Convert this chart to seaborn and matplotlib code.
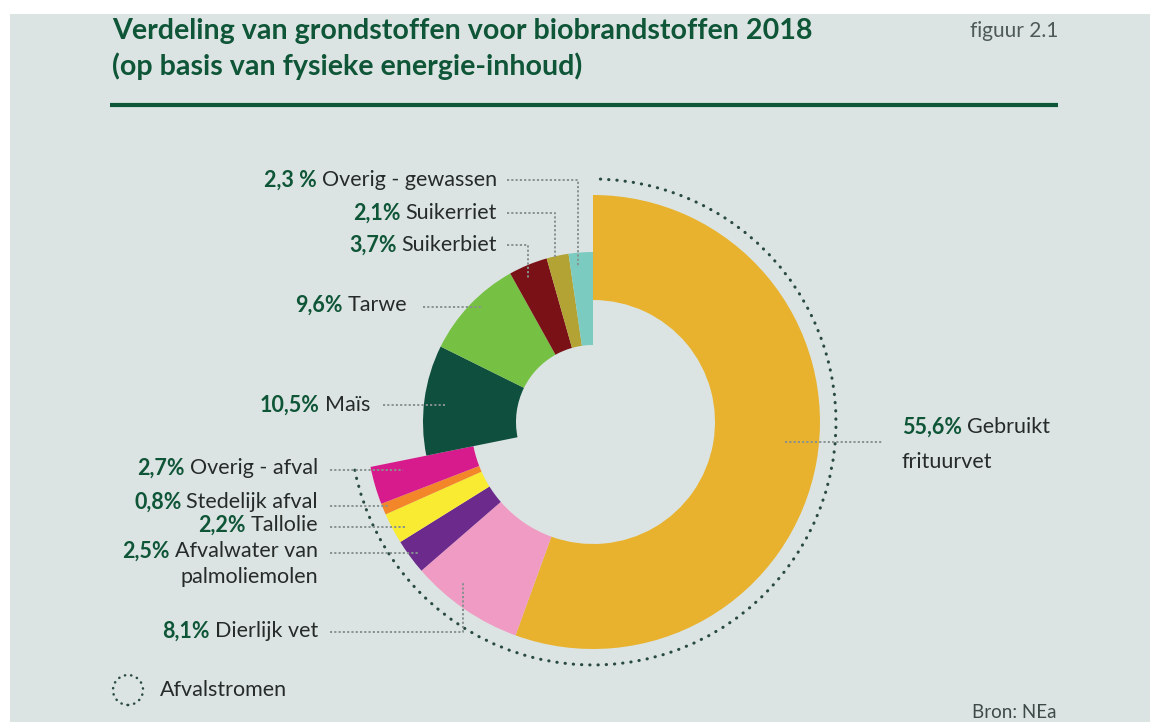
import matplotlib
matplotlib.use('Agg')
import matplotlib.pyplot as plt
from matplotlib.patches import Arc, Circle, Rectangle
import seaborn as sns

# ---- data ----
categories = ['Gebruikt frituurvet', 'Dierlijk vet', 'Afvalwater van palmoliemolen',
              'Tallolie', 'Stedelijk afval', 'Overig - afval',
              'Maïs', 'Tarwe', 'Suikerbiet', 'Suikerriet', 'Overig - gewassen']
shares = [55.6, 8.1, 2.5, 2.2, 0.8, 2.7, 10.5, 9.6, 3.7, 2.1, 2.3]
pct_labels = ['55,6%', '8,1%', '2,5%', '2,2%', '0,8%', '2,7%',
              '10,5%', '9,6%', '3,7%', '2,1%', '2,3 %']
is_waste = [True, True, True, True, True, True, False, False, False, False, False]
colors = ['#e8b22e', '#f09bc3', '#6b2a8c', '#f8eb32', '#f4862a', '#d81b8c',
          '#0f4f3d', '#76c044', '#7a1116', '#b3a234', '#7ccbc1']

# ---- style ----
sns.set_theme(style='white')
plt.rcParams['font.family'] = ['Lato', 'DejaVu Sans']
BG = '#dbe4e2'
GREEN = '#0f5538'
DARK = '#262b2a'
GREY = '#87928f'

W, H = 1150, 722
fig = plt.figure(figsize=(W / 100, H / 100), dpi=100, facecolor='white')
ax = fig.add_axes([0, 0, 1, 1])

def Y(y):
    # pixel row (top-down) -> data y
    return H - y

cx, cy = 593, Y(422)

# outer ring: waste streams
w1, _ = ax.pie(shares, colors=colors, startangle=90, counterclock=False,
               center=(cx, cy), radius=227, wedgeprops=dict(width=105, linewidth=0))
# inner ring: crops
w2, _ = ax.pie(shares, colors=colors, startangle=90, counterclock=False,
               center=(cx, cy), radius=170, wedgeprops=dict(width=93, linewidth=0))
for i, waste in enumerate(is_waste):
    w1[i].set_visible(waste)
    w2[i].set_visible(not waste)
    w1[i].set_zorder(3)
    w2[i].set_zorder(3)

ax.set_xlim(0, W)
ax.set_ylim(0, H)
ax.set_aspect('equal')
ax.axis('off')
ax.add_patch(Rectangle((10, 0), W - 10, H - 14, facecolor=BG, edgecolor='none', zorder=0))

# dotted arc around the waste streams
waste_total = sum(s for s, w in zip(shares, is_waste) if w)
span = 360 * waste_total / sum(shares)
arc = Arc((cx, cy), 2 * 243, 2 * 243, theta1=90 - span, theta2=90,
          color='#284a40', lw=2.2, linestyle=(0, (0.1, 2.6)), zorder=4)
arc.set_capstyle('round')
ax.add_patch(arc)

# header
ax.text(112, Y(31), 'Verdeling van grondstoffen voor biobrandstoffen 2018',
        fontsize=20.6, fontweight='bold', color=GREEN, va='center', ha='left')
ax.text(112, Y(66), '(op basis van fysieke energie-inhoud)',
        fontsize=20.6, fontweight='bold', color=GREEN, va='center', ha='left')
ax.text(1058, Y(31), 'figuur 2.1', fontsize=15, color='#4d5a57', va='center', ha='right')
ax.plot([110, 1058], [Y(105), Y(105)], color=GREEN, lw=3, solid_capstyle='butt')
ax.text(1057, Y(713), 'Bron: NEa', fontsize=13.5, color='#3d4a48', va='center', ha='right')

# labels: (index, x, y, align, second line)
label_pos = [
    (10, 497, 180, 'right', None),
    (9, 497, 213, 'right', None),
    (8, 497, 245, 'right', None),
    (7, 407, 305, 'right', None),
    (6, 370, 405, 'right', None),
    (5, 318, 468, 'right', None),
    (4, 318, 502, 'right', None),
    (3, 318, 525, 'right', None),
    (2, 318, 551, 'right', 'palmoliemolen'),
    (1, 318, 631, 'right', None),
    (0, 902, 427, 'left', 'frituurvet'),
]
first_line = {2: 'Afvalwater van', 0: 'Gebruikt'}

fig.canvas.draw()
renderer = fig.canvas.get_renderer()
FS = 15.5
for idx, x, y, align, second in label_pos:
    name = first_line.get(idx, categories[idx])
    if align == 'right':
        t = ax.text(x, Y(y), name, fontsize=FS, color=DARK, ha='right', va='center')
        bb = t.get_window_extent(renderer)
        ax.text(bb.x0 - 5, Y(y), pct_labels[idx], fontsize=FS, fontweight='bold',
                color=GREEN, ha='right', va='center')
        if second:
            ax.text(x, Y(y + 26), second, fontsize=FS, color=DARK, ha='right', va='center')
    else:
        t = ax.text(x, Y(y), pct_labels[idx], fontsize=FS, fontweight='bold',
                    color=GREEN, ha='left', va='center')
        bb = t.get_window_extent(renderer)
        ax.text(bb.x1 + 5, Y(y), name, fontsize=FS, color=DARK, ha='left', va='center')
        if second:
            ax.text(x, Y(y + 35), second, fontsize=FS, color=DARK, ha='left', va='center')

# leader lines (pixel layout)
leaders = [
    [(507, 180), (578, 180), (578, 267)],
    [(507, 213), (555, 213), (555, 257)],
    [(507, 245), (528, 245), (528, 278)],
    [(423, 307), (483, 307)],
    [(383, 405), (445, 405)],
    [(330, 470), (403, 470)],
    [(330, 506), (390, 506)],
    [(330, 527), (405, 527)],
    [(330, 553), (418, 553)],
    [(330, 632), (463, 632), (463, 583)],
    [(785, 442), (882, 442)],
]
for pts in leaders:
    ax.plot([p[0] for p in pts], [Y(p[1]) for p in pts], color=GREY, lw=1.4,
            linestyle=(0, (1.1, 1.1)), zorder=5)

# legend
leg = Circle((128, Y(690)), 15, fill=False, edgecolor='#284a40', lw=1.8,
             linestyle=(0, (0.1, 2.4)), zorder=4)
leg.set_capstyle('round')
ax.add_patch(leg)
ax.text(160, Y(690), 'Afvalstromen', fontsize=FS, color=DARK, ha='left', va='center')

fig.savefig('out.png', dpi=100, facecolor='white')
